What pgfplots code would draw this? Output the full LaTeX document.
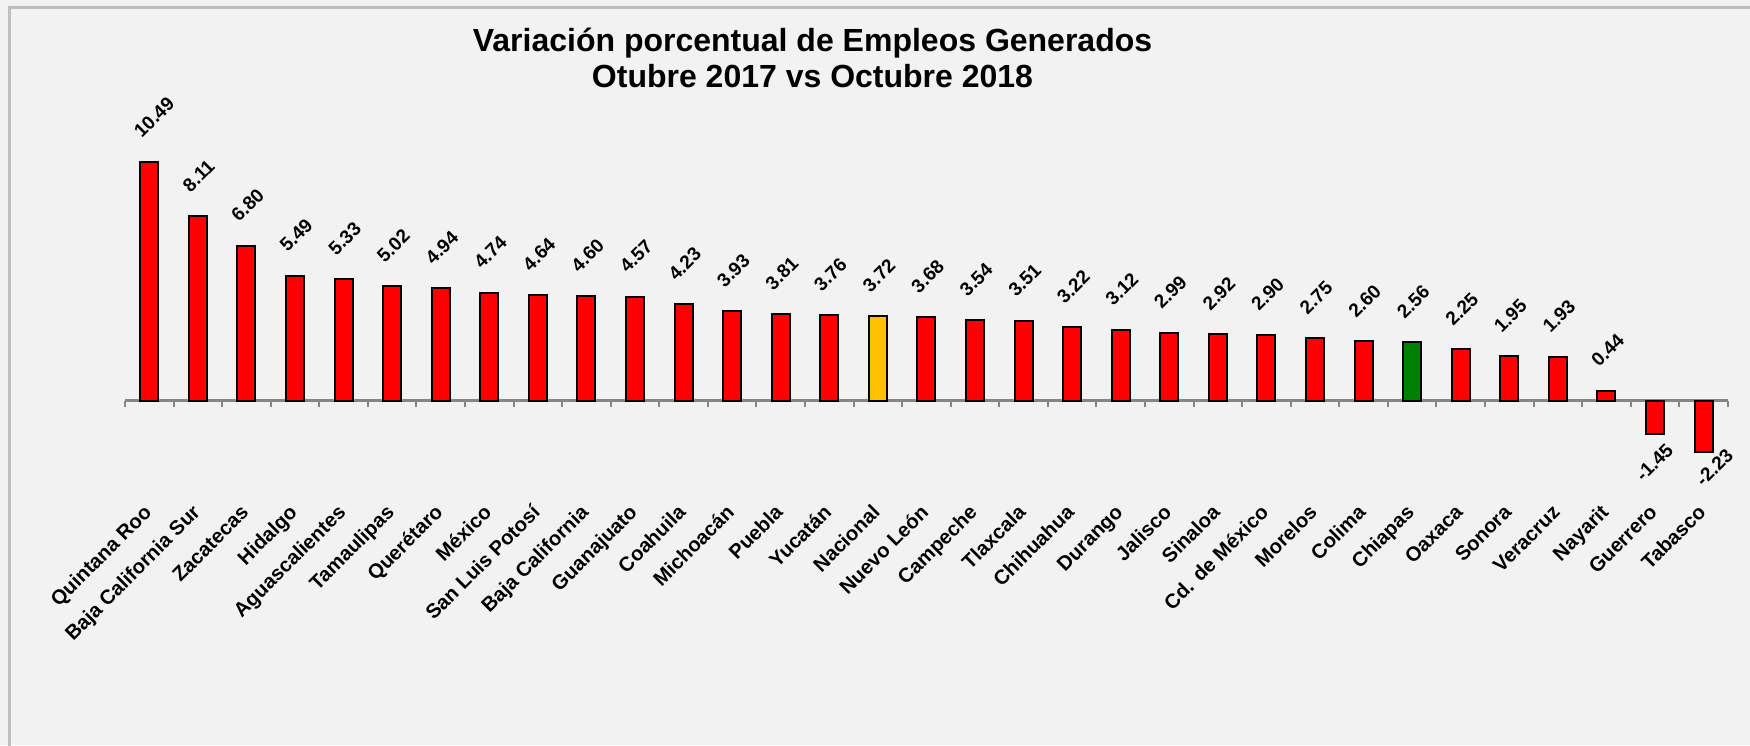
\documentclass[border=0pt]{standalone}
\usepackage{fontspec}
\setmainfont{Liberation Sans}
\usepackage{pgfplots}
\pgfplotsset{compat=1.18}
\usepackage{pgfplotstable}
\definecolor{bg}{HTML}{F2F2F2}
\definecolor{framegray}{HTML}{BFBFBF}
\definecolor{axisgray}{HTML}{868686}
\definecolor{barred}{HTML}{FF0000}
\definecolor{baryellow}{HTML}{FFC000}
\definecolor{bargreen}{HTML}{008000}

\pgfplotstableread{
x y lab
0 10.49 10.49
1 8.11 8.11
2 6.80 6.80
3 5.49 5.49
4 5.33 5.33
5 5.02 5.02
6 4.94 4.94
7 4.74 4.74
8 4.64 4.64
9 4.60 4.60
10 4.57 4.57
11 4.23 4.23
12 3.93 3.93
13 3.81 3.81
14 3.76 3.76
16 3.68 3.68
17 3.54 3.54
18 3.51 3.51
19 3.22 3.22
20 3.12 3.12
21 2.99 2.99
22 2.92 2.92
23 2.90 2.90
24 2.75 2.75
25 2.60 2.60
27 2.25 2.25
28 1.95 1.95
29 1.93 1.93
30 0.44 0.44
}\redpos
\pgfplotstableread{
x y lab
15 3.72 3.72
}\nacional
\pgfplotstableread{
x y lab
26 2.56 2.56
}\chiapas
\pgfplotstableread{
x y lab
31 -1.45 -1.45
}\guerrero
\pgfplotstableread{
x y lab
32 -2.23 -2.23
}\tabasco

\begin{document}
\begin{tikzpicture}
\useasboundingbox (0pt,0pt) rectangle (875pt,372.5pt);
\fill[bg] (0pt,0pt) rectangle (875pt,372.5pt);
\draw[framegray, line width=1.5pt] (4.5pt,-2pt) -- (4.5pt,368.5pt) -- (877pt,368.5pt);
\node[anchor=base, font=\fontsize{16}{19}\selectfont\bfseries] at (406.25pt,346.5pt) {Variación porcentual de Empleos Generados};
\node[anchor=base, font=\fontsize{16}{19}\selectfont\bfseries] at (406.25pt,328.5pt) {Otubre 2017 vs Octubre 2018};
\begin{axis}[
  at={(62.5pt,137.95pt)}, anchor=south west,
  scale only axis, width=801.4pt, height=171pt,
  xmin=-0.5, xmax=32.5, ymin=-3, ymax=12,
  axis y line=none, axis x line=middle,
  x axis line style={draw=axisgray, line width=1.5pt, -},
  ybar, bar width=9pt,
  xtick={0,...,32},
  xticklabels={Quintana Roo,Baja California Sur,Zacatecas,Hidalgo,Aguascalientes,Tamaulipas,Querétaro,México,San Luis Potosí,Baja California,Guanajuato,Coahuila,Michoacán,Puebla,Yucatán,Nacional,Nuevo León,Campeche,Tlaxcala,Chihuahua,Durango,Jalisco,Sinaloa,Cd. de México,Morelos,Colima,Chiapas,Oaxaca,Sonora,Veracruz,Nayarit,Guerrero,Tabasco},
  major tick length=0pt,
  minor xtick={-0.5,0.5,...,32.5},
  minor tick length=3pt,
  tick align=outside,
  minor x tick style={draw=axisgray, line width=1pt},
  major x tick style={draw=none},
  xticklabel style={font=\fontsize{10.1}{12}\selectfont\bfseries, text=black, xshift=1.75pt, yshift=-56.35pt, rotate=45, anchor=base east, inner sep=0pt},
  clip=false,
  point meta=explicit symbolic,
  nodes near coords,
  every node near coord/.append style={font=\fontsize{9.5}{11}\selectfont\bfseries, text=black, inner sep=0pt},
]
\addplot[fill=barred, draw=black, line width=1pt, bar shift=0pt,
  every node near coord/.append style={xshift=-4pt, yshift=11pt, rotate=45, anchor=base west}]
  table[x=x, y=y, meta=lab] \redpos;
\addplot[fill=baryellow, draw=black, line width=1pt, bar shift=0pt,
  every node near coord/.append style={xshift=-4pt, yshift=11pt, rotate=45, anchor=base west}]
  table[x=x, y=y, meta=lab] \nacional;
\addplot[fill=bargreen, draw=black, line width=1pt, bar shift=0pt,
  every node near coord/.append style={xshift=-4pt, yshift=11pt, rotate=45, anchor=base west}]
  table[x=x, y=y, meta=lab] \chiapas;
\addplot[fill=barred, draw=black, line width=1pt, bar shift=0pt,
  every node near coord/.append style={xshift=10pt, yshift=-8.6pt, rotate=45, anchor=base east}]
  table[x=x, y=y, meta=lab] \guerrero;
\addplot[fill=barred, draw=black, line width=1pt, bar shift=0pt,
  every node near coord/.append style={xshift=15.7pt, yshift=-2.25pt, rotate=45, anchor=base east}]
  table[x=x, y=y, meta=lab] \tabasco;
\end{axis}
\end{tikzpicture}
\end{document}
